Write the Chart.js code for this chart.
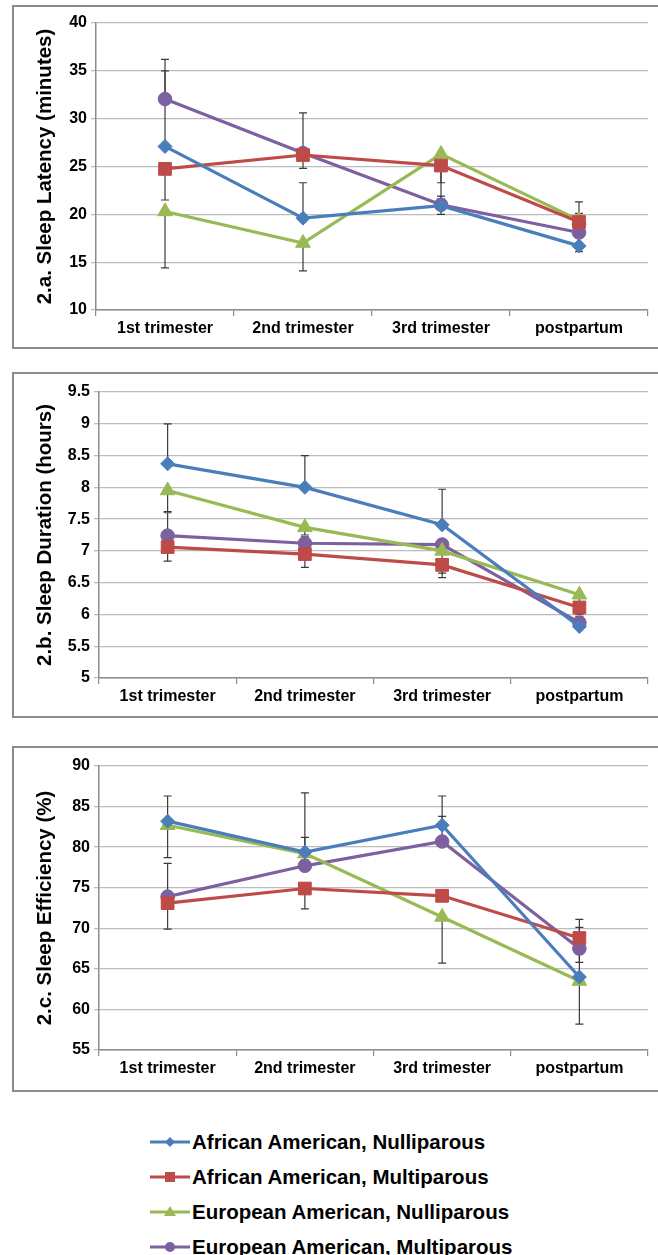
<!DOCTYPE html>
<html>
<head>
<meta charset="utf-8">
<script src="https://cdn.jsdelivr.net/npm/chart.js@4.4.0/dist/chart.umd.min.js"></script>
<style>
  body { margin: 0; width: 658px; height: 1255px; background: #fff; position: relative; overflow: hidden; font-family: 'Liberation Sans', Arial, sans-serif; }
  .frame { position: absolute; left: 12px; width: 652px; border: 2px solid #8c8c8c; box-sizing: border-box; }
  .box { position: absolute; left: 0; width: 658px; }
  .legend-row { position: absolute; left: 148px; height: 24px; display: flex; align-items: center; font-size: 20.5px; font-weight: bold; color: #000; white-space: nowrap; }
</style>
</head>
<body>
<div class="frame" style="top:5px;height:344px"></div>
<div class="frame" style="top:372px;height:346px"></div>
<div class="frame" style="top:746px;height:346px"></div>

<div class="box" style="top:0;height:348px"><canvas id="latencyChart"></canvas></div>
<div class="box" style="top:360px;height:357px"><canvas id="durationChart"></canvas></div>
<div class="box" style="top:740px;height:351px"><canvas id="efficiencyChart"></canvas></div>

<div id="legend"></div>

<script>
// Datos de las gráficas
const categories = ['1st trimester', '2nd trimester', '3rd trimester', 'postpartum'];
const seriesLabels = [
    'African American, Nulliparous',
    'African American, Multiparous',
    'European American, Nulliparous',
    'European American, Multiparous'
];
const seriesColors = ['#4a7ebb', '#be4b48', '#98b954', '#7d60a0'];
const seriesMarkers = ['rectRot', 'rect', 'triangle', 'circle'];

// 2.a. Sleep Latency (minutes)
const latencyAANulli = [27.1, 19.6, 20.9, 16.7];
const latencyAAMulti = [24.75, 26.2, 25.1, 19.2];
const latencyEANulli = [20.3, 17.0, 26.3, 19.4];
const latencyEAMulti = [32.05, 26.4, 21.0, 18.1];
const latencyErrAANulli = [7.9, 3.7, 1.0, 3.4];
const latencyErrAAMulti = [-3.25, -1.4, -1.8, -0.5];
const latencyErrEANulli = [-5.9, -2.9, -6.3, -3.3];
const latencyErrEAMulti = [4.15, 4.2, 0.6, 3.2];

// 2.b. Sleep Duration (hours)
const durationAANulli = [8.37, 8.0, 7.41, 5.81];
const durationAAMulti = [7.06, 6.95, 6.78, 6.11];
const durationEANulli = [7.95, 7.37, 7.0, 6.31];
const durationEAMulti = [7.24, 7.12, 7.1, 5.87];
const durationErrAANulli = [0.63, 0.5, 0.56, 0.1];
const durationErrAAMulti = [-0.22, -0.21, -0.2, -0.1];
const durationErrEANulli = [-0.33, -0.12, -0.35, -0.3];
const durationErrEAMulti = [0.36, 0.1, 0.05, 0.1];

// 2.c. Sleep Efficiency (%)
const efficiencyAANulli = [83.2, 79.4, 82.7, 64.0];
const efficiencyAAMulti = [73.1, 74.9, 74.0, 68.8];
const efficiencyEANulli = [82.7, 79.2, 71.4, 63.5];
const efficiencyEAMulti = [73.9, 77.7, 80.7, 67.5];
const efficiencyErrAANulli = [3.1, 7.3, 3.6, 7.1];
const efficiencyErrAAMulti = [-3.2, -2.5, -0.6, -3.0];
const efficiencyErrEANulli = [-4.0, -0.8, -5.7, -5.3];
const efficiencyErrEAMulti = [4.1, 3.5, 3.1, 2.6];

const pointSizes = { rectRot: 7, rect: 9, triangle: 8.5, circle: 6.8 };

Chart.defaults.font.family = "'Liberation Sans', Arial, sans-serif";
Chart.defaults.color = '#000';

// Barras de error (una dirección por serie, como en Excel)
const errorBarsPlugin = {
    id: 'errorBars',
    beforeDatasetsDraw(chart) {
        const ctx = chart.ctx;
        const x = chart.scales.x;
        const y = chart.scales.y;
        ctx.save();
        ctx.strokeStyle = '#3a3a3a';
        ctx.lineWidth = 1.2;
        chart.data.datasets.forEach(ds => {
            ds.data.forEach((v, i) => {
                const err = ds.errors[i];
                const px = x.getPixelForValue(i);
                const y0 = y.getPixelForValue(v);
                const y1 = y.getPixelForValue(v + err);
                ctx.beginPath();
                ctx.moveTo(px, y0);
                ctx.lineTo(px, y1);
                ctx.moveTo(px - 4, y1);
                ctx.lineTo(px + 4, y1);
                ctx.stroke();
            });
        });
        ctx.restore();
    }
};

function buildDatasets(values, errors) {
    return values.map((data, i) => ({
        label: seriesLabels[i],
        data: data,
        errors: errors[i],
        borderColor: seriesColors[i],
        backgroundColor: seriesColors[i],
        borderWidth: 3.2,
        pointStyle: seriesMarkers[i],
        pointRadius: pointSizes[seriesMarkers[i]],
        pointBackgroundColor: seriesColors[i],
        pointBorderColor: seriesColors[i],
        pointBorderWidth: 1,
        tension: 0,
        fill: false
    }));
}

function createPanel(canvasId, datasets, yMin, yMax, step, title, padTop, yWidth, xHeight) {
    return new Chart(document.getElementById(canvasId), {
        type: 'line',
        data: { labels: categories, datasets: datasets },
        plugins: [errorBarsPlugin],
        options: {
            responsive: true,
            maintainAspectRatio: false,
            animation: false,
            layout: { padding: { left: 29, right: 6, top: padTop, bottom: 0 } },
            plugins: { legend: { display: false }, tooltip: { enabled: false } },
            scales: {
                x: {
                    offset: true,
                    afterFit: s => { s.height = xHeight; },
                    grid: { offset: true, drawOnChartArea: false, drawTicks: true, tickLength: 6, color: '#8c8c8c', lineWidth: 1.2 },
                    border: { color: '#8c8c8c', width: 1.5 },
                    ticks: { font: { size: 16, weight: 'bold' }, color: '#000', padding: 3, maxRotation: 0 }
                },
                y: {
                    min: yMin,
                    max: yMax,
                    afterFit: s => { s.width = yWidth; },
                    ticks: {
                        stepSize: step,
                        font: { size: 16, weight: 'bold' },
                        color: '#000',
                        padding: 4,
                        callback: v => String(Math.round(v * 10) / 10)
                    },
                    grid: { color: '#bcbcbc', lineWidth: 1.3, tickLength: 5 },
                    border: { color: '#8c8c8c', width: 1.5 },
                    title: { display: true, text: title, font: { size: 20.5, weight: 'bold' }, color: '#000', padding: { top: 4, bottom: 4 } }
                }
            }
        }
    });
}

document.addEventListener('DOMContentLoaded', function() {
    createPanel('latencyChart',
        buildDatasets([latencyAANulli, latencyAAMulti, latencyEANulli, latencyEAMulti],
                      [latencyErrAANulli, latencyErrAAMulti, latencyErrEANulli, latencyErrEAMulti]),
        10, 40, 5, '2.a. Sleep Latency (minutes)', 23, 67, 38);

    createPanel('durationChart',
        buildDatasets([durationAANulli, durationAAMulti, durationEANulli, durationEAMulti],
                      [durationErrAANulli, durationErrAAMulti, durationErrEANulli, durationErrEAMulti]),
        5, 9.5, 0.5, '2.b. Sleep Duration (hours)', 32, 70, 39);

    createPanel('efficiencyChart',
        buildDatasets([efficiencyAANulli, efficiencyAAMulti, efficiencyEANulli, efficiencyEAMulti],
                      [efficiencyErrAANulli, efficiencyErrAAMulti, efficiencyErrEANulli, efficiencyErrEAMulti]),
        55, 90, 5, '2.c. Sleep Efficiency (%)', 26, 70, 41);

    buildLegend();
});

// Leyenda compartida debajo de los tres paneles
function markerSvg(style, color) {
    const cx = 22, cy = 12;
    if (style === 'rectRot') return `<polygon points="${cx-5},${cy} ${cx},${cy-5} ${cx+5},${cy} ${cx},${cy+5}" fill="${color}"/>`;
    if (style === 'rect') return `<rect x="${cx-5}" y="${cy-5}" width="10" height="10" fill="${color}"/>`;
    if (style === 'triangle') return `<polygon points="${cx},${cy-6} ${cx+6},${cy+4} ${cx-6},${cy+4}" fill="${color}"/>`;
    return `<circle cx="${cx}" cy="${cy}" r="5" fill="${color}"/>`;
}

function buildLegend() {
    const legend = document.getElementById('legend');
    const rowCenters = [1142, 1177, 1212, 1247];
    seriesLabels.forEach((label, i) => {
        const row = document.createElement('div');
        row.className = 'legend-row';
        row.style.top = (rowCenters[i] - 12) + 'px';
        row.innerHTML = `<svg width="44" height="24"><line x1="2" y1="12" x2="42" y2="12" stroke="${seriesColors[i]}" stroke-width="3"/>${markerSvg(seriesMarkers[i], seriesColors[i])}</svg><span>${label}</span>`;
        legend.appendChild(row);
    });
}
</script>
</body>
</html>
